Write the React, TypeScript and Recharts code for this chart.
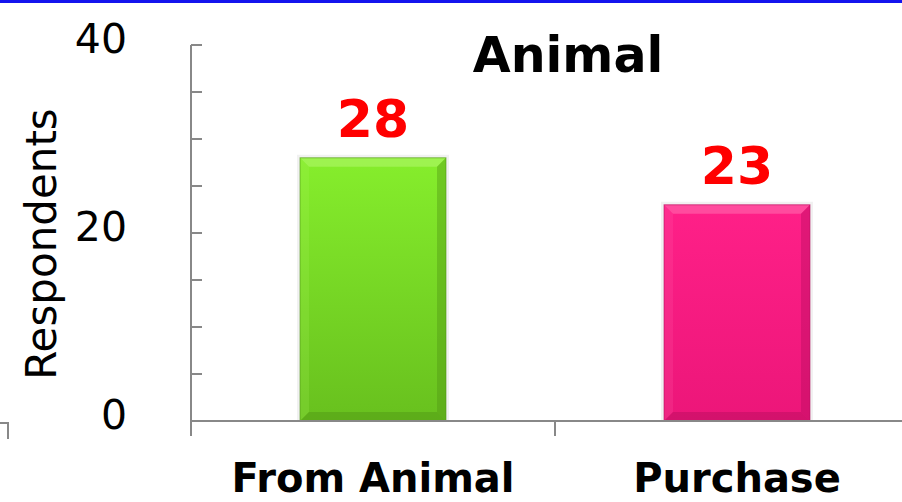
import { BarChart, Bar, XAxis, YAxis, Cell, LabelList, Label } from "recharts";

const categories = ["From Animal", "Purchase"];
const respondents = [28, 23];
const yTicks = [0, 5, 10, 15, 20, 25, 30, 35, 40];
const yLabeled = [0, 20, 40];

const data = categories.map((name, i) => ({ name, value: respondents[i] }));

// bevelled bar colours, one set per category
const palettes = [
  { top: "#86ee2c", bottom: "#68c01e", light: "#a8f560", dark: "#4f9414" },
  { top: "#ff2088", bottom: "#ec1679", light: "#ff5ea8", dark: "#b50d5e" },
];

const AXIS = "#888888";
const FONT = "'DejaVu Sans', Verdana, sans-serif";

function BevelBar(props: any) {
  const { x, y, width: w, height: h, index } = props;
  if (!h || h <= 0) return null;
  const p = palettes[index % palettes.length];
  const b = 9;
  return (
    <g>
      <rect x={x - 3} y={y - 3} width={w + 6} height={h + 3} fill="#e8e8e8" opacity={0.6} />
      <rect x={x} y={y} width={w} height={h} fill={`url(#grad${index})`} />
      <polygon points={`${x},${y} ${x + w},${y} ${x + w - b},${y + b} ${x + b},${y + b}`} fill={p.light} opacity={0.7} />
      <polygon points={`${x},${y} ${x + b},${y + b} ${x + b},${y + h - b} ${x},${y + h}`} fill={p.light} opacity={0.2} />
      <polygon points={`${x + w},${y} ${x + w - b},${y + b} ${x + w - b},${y + h - b} ${x + w},${y + h}`} fill={p.dark} opacity={0.4} />
      <polygon points={`${x},${y + h} ${x + b},${y + h - b} ${x + w - b},${y + h - b} ${x + w},${y + h}`} fill={p.dark} opacity={0.45} />
      <rect x={x} y={y} width={w} height={h} fill="none" stroke={p.dark} strokeWidth={1} opacity={0.6} />
    </g>
  );
}

function YTick(props: any) {
  const { x, y, payload } = props;
  const v = payload.value;
  return (
    <g>
      <line x1={x} x2={x + 11} y1={y} y2={y} stroke={AXIS} strokeWidth={2} />
      {yLabeled.includes(v) && (
        <text x={x - 64} y={y + 8} textAnchor="end" fontSize={41} fill="#000" fontFamily={FONT}>
          {v}
        </text>
      )}
    </g>
  );
}

function XTick(props: any) {
  const { x, y, payload } = props;
  const half = payload.offset || 182;
  return (
    <g>
      <line x1={x - half} x2={x - half} y1={y} y2={y + 15} stroke={AXIS} strokeWidth={2} />
      <line x1={x + half} x2={x + half} y1={y} y2={y + 15} stroke={AXIS} strokeWidth={2} />
      <text x={x} y={y + 71} textAnchor="middle" fontSize={40} fontWeight="bold" fill="#000" fontFamily={FONT}>
        {payload.value}
      </text>
    </g>
  );
}

function AxisTitle(props: any) {
  const vb = props.viewBox || { x: 0, y: 45, width: 191, height: 376 };
  const cx = vb.x + 56;
  const cy = vb.y + vb.height / 2 + 11;
  return (
    <text x={cx} y={cy} transform={`rotate(-90, ${cx}, ${cy})`} textAnchor="middle" fontSize={42} fill="#000" fontFamily={FONT}>
      Respondents
    </text>
  );
}

export default function App() {
  return (
    <div
      style={{
        position: "fixed",
        left: 0,
        top: 0,
        width: 902,
        height: 502,
        overflow: "hidden",
        background: "#fff",
        fontFamily: FONT,
      }}
    >
      <div style={{ position: "absolute", left: 0, top: 0, width: 902, height: 3, background: "#1414ee" }} />
      <div
        style={{
          position: "absolute",
          left: 0,
          top: 422,
          width: 7,
          height: 15,
          borderTop: `2px solid ${AXIS}`,
          borderRight: `2px solid ${AXIS}`,
        }}
      />
      <div
        style={{
          position: "absolute",
          left: 368,
          top: 31,
          width: 400,
          textAlign: "center",
          fontSize: 49,
          lineHeight: "49px",
          fontWeight: "bold",
          color: "#000",
        }}
      >
        Animal
      </div>
      <BarChart
        width={940}
        height={502}
        data={data}
        margin={{ top: 45, right: 21, left: 0, bottom: 0 }}
        barCategoryGap={0}
      >
        <defs>
          {palettes.map((p, i) => (
            <linearGradient key={i} id={`grad${i}`} x1="0" y1="0" x2="0" y2="1">
              <stop offset="0%" stopColor={p.top} />
              <stop offset="100%" stopColor={p.bottom} />
            </linearGradient>
          ))}
        </defs>
        <XAxis
          dataKey="name"
          height={81}
          interval={0}
          tickLine={false}
          tickSize={0}
          tickMargin={0}
          axisLine={{ stroke: AXIS, strokeWidth: 2 }}
          tick={<XTick />}
        />
        <YAxis
          width={191}
          domain={[0, 40]}
          ticks={yTicks}
          interval={0}
          tickLine={false}
          tickSize={0}
          tickMargin={0}
          axisLine={{ stroke: AXIS, strokeWidth: 2 }}
          tick={<YTick />}
          label={<Label content={<AxisTitle />} />}
        />
        <Bar dataKey="value" barSize={146} isAnimationActive={false} shape={<BevelBar />}>
          {data.map((d, i) => (
            <Cell key={d.name} fill={`url(#grad${i})`} />
          ))}
          <LabelList
            dataKey="value"
            position="top"
            offset={21}
            fill="#ff0000"
            fontSize={52}
            fontWeight="bold"
            fontFamily={FONT}
          />
        </Bar>
      </BarChart>
    </div>
  );
}
